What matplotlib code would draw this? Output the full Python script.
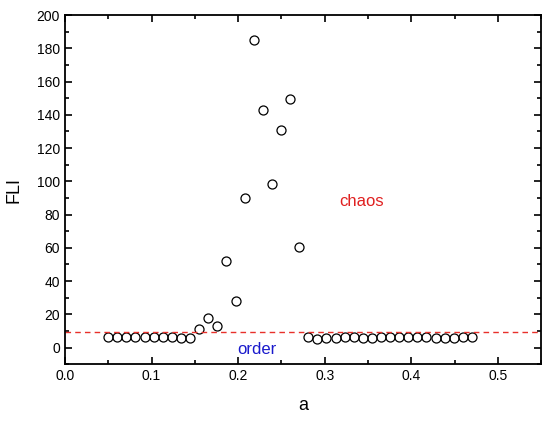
import numpy as np
import matplotlib
matplotlib.use('Agg')
import matplotlib.pyplot as plt
from matplotlib.ticker import MultipleLocator

plt.rcParams['font.family'] = ['Liberation Sans', 'DejaVu Sans']

# a values, step ~0.0105 from 0.05 to 0.47
a = np.linspace(0.05, 0.47, 41)
fli = [6.2, 6.2, 6.2, 6.2, 6.2, 6.2, 6.2, 6.2, 6.0, 5.6,
       11.2, 17.8, 12.9, 52.3, 27.9, 89.8, 185.3, 142.8, 98.6, 130.8,
       149.6, 60.5,
       6.6, 5.4, 6.0, 6.0, 6.2, 6.2, 6.0, 6.0, 6.2, 6.2,
       6.2, 6.2, 6.2, 6.2, 6.0, 5.6, 6.0, 6.2, 6.6]
threshold = 9.2

fig = plt.figure(figsize=(5.5, 4.21), dpi=100)
ax = fig.add_axes([0.118, 0.135, 0.866, 0.829])

ax.plot(a, fli, 'o', mfc='none', mec='black', ms=6.5, mew=0.9)
ax.axhline(threshold, color='#e8302a', ls=(0, (4, 3)), lw=1.0)

ax.text(0.343, 88, 'chaos', color='#e02020', fontsize=12, ha='center', va='center')
ax.text(0.222, -1, 'order', color='#1a1acc', fontsize=12, ha='center', va='center')

ax.set_xlim(0.0, 0.55)
ax.set_ylim(-10, 200)
ax.xaxis.set_major_locator(MultipleLocator(0.1))
ax.xaxis.set_minor_locator(MultipleLocator(0.05))
ax.yaxis.set_major_locator(MultipleLocator(20))
ax.yaxis.set_minor_locator(MultipleLocator(10))
ax.set_xticks(np.arange(0, 0.51, 0.1))
ax.set_xticklabels(['0.0', '0.1', '0.2', '0.3', '0.4', '0.5'])
ax.tick_params(which='both', direction='in', top=True, right=True, labelsize=10, width=1.2)
ax.tick_params(which='major', length=5)
ax.tick_params(which='minor', length=3)
for s in ax.spines.values():
    s.set_linewidth(1.3)

ax.set_xlabel('a', fontsize=13, labelpad=10)
ax.set_ylabel('FLI', fontsize=13, labelpad=10)

fig.savefig('out.png', dpi=100)
